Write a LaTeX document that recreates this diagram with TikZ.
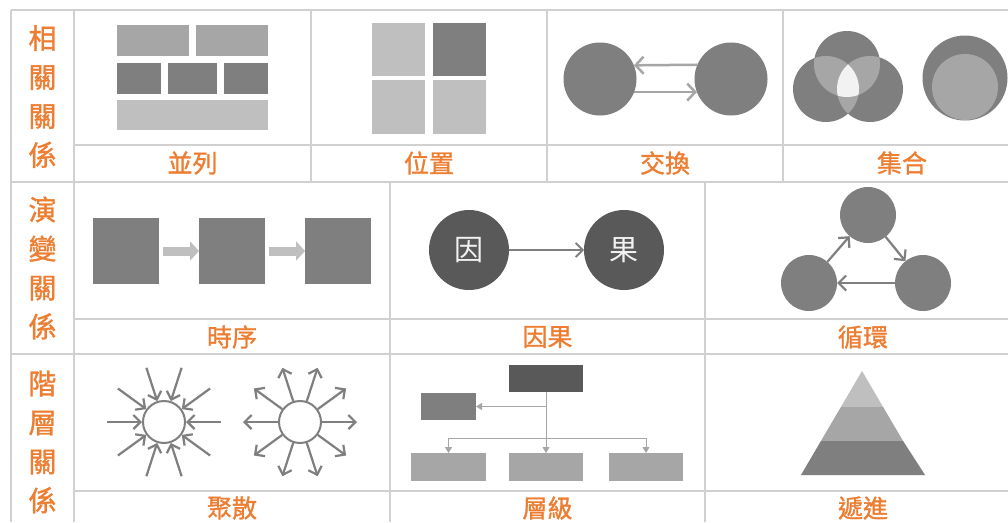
\documentclass[tikz,border=0pt]{standalone}
\usepackage{fontspec}
\newfontfamily\cjk{Noto Sans CJK TC}
\newfontfamily\cjkb{Noto Sans CJK TC}[FakeBold=1.2]
\usetikzlibrary{arrows.meta}
\definecolor{org}{HTML}{ED7D31}
\definecolor{gridc}{HTML}{D0D0D0}
\definecolor{gA}{HTML}{595959}
\definecolor{gB}{HTML}{7F7F7F}
\definecolor{gC}{HTML}{A6A6A6}
\definecolor{gD}{HTML}{BFBFBF}
\definecolor{gE}{HTML}{F2F2F2}
\begin{document}
\begin{tikzpicture}[x=1pt,y=-1pt,
  gridline/.style={draw=gridc,line width=1.5pt},
  hdr/.style={text=org,font=\cjkb\fontsize{28}{39}\selectfont,align=center,inner sep=0pt},
  lbl/.style={text=org,font=\cjkb\fontsize{25}{25}\selectfont,inner sep=0pt},
  blk/.style={rectangle,inner sep=0pt,outer sep=0pt,draw=none,fill=#1},
  sz/.style 2 args={minimum width=#1pt,minimum height=#2pt},
  disc/.style={circle,inner sep=0pt,outer sep=0pt,draw=none,fill=#1},
  xarrow/.style={draw=gC,line width=2.5pt,-{Straight Barb[length=8pt,width=17pt,line join=miter]}},
  bigarrow/.style={draw=gD,line width=9pt,shorten <=4pt,-{Triangle[length=9pt,width=19pt]}},
  karrow/.style={draw=gB,line width=1.8pt,-{Straight Barb[length=7pt,width=14pt]}},
  carrow/.style={draw=gB,line width=2.2pt,-{Straight Barb[length=7.5pt,width=15pt]}},
  sarrow/.style={draw=gB,line width=2.2pt,-{Straight Barb[length=7pt,width=14pt]}},
  ring/.style={circle,inner sep=0pt,draw=gB,line width=2pt,fill=white,minimum size=42pt},
  harrow/.style={draw=gC,line width=1pt,-{Triangle[length=6pt,width=7pt]}},
]
\useasboundingbox (0,0) rectangle (1008,522);
\fill[white] (0,0) rectangle (1008,522);

% grid
\draw[gridline] (11,10) -- (1008,10);
\draw[gridline] (11,10) -- (11,522);
\draw[gridline] (74,10) -- (74,522);
\draw[gridline] (11,182) -- (1008,182);
\draw[gridline] (11,354) -- (1008,354);
\draw[gridline] (74,145) -- (1008,145);
\draw[gridline] (74,319) -- (1008,319);
\draw[gridline] (74,491) -- (1008,491);
\draw[gridline] (311,10) -- (311,182);
\draw[gridline] (547,10) -- (547,182);
\draw[gridline] (783,10) -- (783,182);
\draw[gridline] (390,182) -- (390,522);
\draw[gridline] (705,182) -- (705,522);

% row headers
\node[hdr] (H1) at (42.5,96.5) {相\\關\\關\\係};
\node[hdr] (H2) at (42.5,268) {演\\變\\關\\係};
\node[hdr] (H3) at (42.5,442) {階\\層\\關\\係};

% labels
\node[lbl] (L1) at (192.5,163) {並列};
\node[lbl] (L2) at (429,163) {位置};
\node[lbl] (L3) at (665,163) {交換};
\node[lbl] (L4) at (902,163) {集合};
\node[lbl] (L5) at (232,337) {時序};
\node[lbl] (L6) at (547.5,337) {因果};
\node[lbl] (L7) at (863,337) {循環};
\node[lbl] (L8) at (232,508) {聚散};
\node[lbl] (L9) at (547.5,508) {層級};
\node[lbl] (L10) at (863,508) {遞進};

% 並列
\node[blk=gC,sz={72}{31}] (p1) at (153,40.5) {};
\node[blk=gC,sz={72}{31}] (p2) at (232,40.5) {};
\node[blk=gB,sz={44}{31}] (p3) at (139,78.5) {};
\node[blk=gB,sz={49}{31}] (p4) at (192.5,78.5) {};
\node[blk=gB,sz={44}{31}] (p5) at (246,78.5) {};
\node[blk=gD,sz={151}{30}] (p6) at (192.5,115) {};

% 位置
\node[blk=gD,sz={53}{53}] (q1) at (398.5,49.5) {};
\node[blk=gB,sz={53}{53}] (q2) at (459.5,49.5) {};
\node[blk=gD,sz={53}{54}] (q3) at (398.5,107) {};
\node[blk=gD,sz={53}{54}] (q4) at (459.5,107) {};

% 交換
\node[disc=gB,minimum size=73pt] (x1) at (600,79) {};
\node[disc=gB,minimum size=73pt] (x2) at (731,79) {};
\draw[xarrow] (x2.157.5) -- (x1.22.5);
\draw[xarrow] (x1.-21) -- (x2.201);

% 集合 (venn)
\fill[gB] (847,64) circle[radius=33pt];
\fill[gB] (826,89) circle[radius=33pt];
\fill[gB] (870,89) circle[radius=33pt];
\begin{scope}
  \clip (847,64) circle[radius=33pt];
  \fill[gC] (826,89) circle[radius=33pt];
  \fill[gC] (870,89) circle[radius=33pt];
\end{scope}
\begin{scope}
  \clip (826,89) circle[radius=33pt];
  \fill[gC] (870,89) circle[radius=33pt];
\end{scope}
\begin{scope}
  \clip (847,64) circle[radius=33pt];
  \clip (826,89) circle[radius=33pt];
  \fill[gE] (870,89) circle[radius=33pt];
\end{scope}
% 集合 (nested)
\fill[gB] (965,78) circle[radius=42.5pt];
\fill[gC] (965,87) circle[radius=33pt];

% 時序
\node[blk=gB,sz={66}{66}] (s1) at (126,251) {};
\node[blk=gB,sz={66}{66}] (s2) at (232,251) {};
\node[blk=gB,sz={66}{66}] (s3) at (338,251) {};
\draw[bigarrow] (s1) -- (s2);
\draw[bigarrow] (s2) -- (s3);

% 因果
\node[disc=gA,minimum size=80pt,text=gE,font=\cjk\fontsize{29}{29}\selectfont] (k1) at (469,250) {因};
\node[disc=gA,minimum size=80pt,text=gE,font=\cjk\fontsize{29}{29}\selectfont] (k2) at (624,250) {果};
\draw[karrow] (k1) -- (k2);

% 循環
\node[disc=gB,minimum size=56pt] (ct) at (868,215) {};
\node[disc=gB,minimum size=56pt] (cl) at (809,283) {};
\node[disc=gB,minimum size=56pt] (cr) at (923,283) {};
\draw[carrow] (cl) -- (ct);
\draw[carrow] (ct) -- (cr);
\draw[carrow] (cr) -- (cl);

% 聚散
\node[ring] (f1) at (164,422) {};
\node[ring] (f2) at (300,422) {};
\foreach \a in {0,36,...,324}{
  \path (f1) ++(\a:57pt) coordinate (fi\a);
  \path (f2) ++(\a:57pt) coordinate (fo\a);
  \draw[sarrow] (fi\a) -- (f1.\a);
  \draw[sarrow] (f2.\a) -- (fo\a);
}

% 層級
\node[blk=gA,sz={74}{27}] (h0) at (546,378.5) {};
\node[blk=gB,sz={55}{27}] (h1) at (448.5,406.5) {};
\node[blk=gC,sz={75}{28}] (b1) at (448.5,467) {};
\node[blk=gC,sz={74}{28}] (b2) at (546,467) {};
\node[blk=gC,sz={74}{28}] (b3) at (646,467) {};
\coordinate (jn) at (546,438);
\draw[harrow] (h0.south) -- (b2.north);
\draw[harrow] (h0.south |- h1.east) -- (h1.east);
\draw[harrow] (jn) -| (b1.north);
\draw[harrow] (jn) -| (b3.north);

% 遞進
\fill[gD] (862,371) -- (883.1,407) -- (840.9,407) -- cycle;
\fill[gC] (840.9,407) -- (883.1,407) -- (903.1,441) -- (820.9,441) -- cycle;
\fill[gB] (820.9,441) -- (903.1,441) -- (925,475) -- (801,475) -- cycle;
\end{tikzpicture}
\end{document}
